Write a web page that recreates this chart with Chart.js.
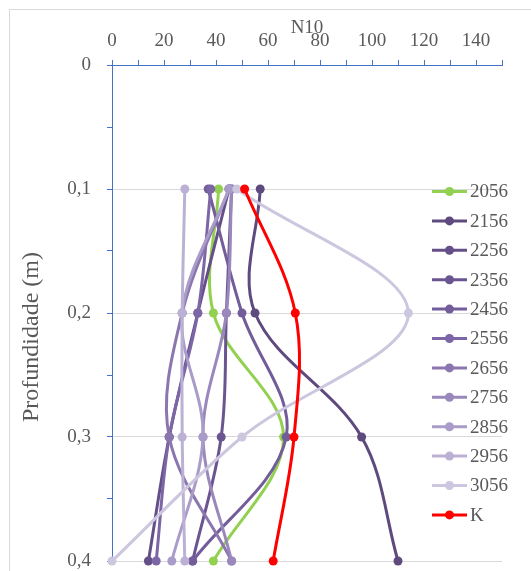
<!DOCTYPE html>
<html>
<head>
<meta charset="utf-8">
<script src="https://cdn.jsdelivr.net/npm/chart.js@4.4.1/dist/chart.umd.min.js"></script>
<style>
html, body { margin: 0; padding: 0; background: #fff; overflow: hidden; }
#frame { position: absolute; left: 9px; top: 9px; width: 700px; height: 700px;
         border-left: 1px solid #D9D9D9; border-top: 1px solid #D9D9D9; }
#myChart { position: absolute; left: 0; top: 0; }
</style>
</head>
<body>
<div id="frame"></div>
<canvas id="myChart" width="531" height="571"></canvas>
<script>
// depth of each reading (m)
var depths = [0.1, 0.2, 0.3, 0.4];

var names = ['2056', '2156', '2256', '2356', '2456', '2556', '2656', '2756', '2856', '2956', '3056', 'K'];

// N10, one value per depth
var n2056 = [41, 39, 66, 39];
var n2156 = [57, 55, 96, 110];
var n2256 = [45, 33, 22, 14];
var n2356 = [46, 44, 42, 31];
var n2456 = [37, 50, 67, 31];
var n2556 = [38, 33, 22, 17];
var n2656 = [45, 27, 22, 46];
var n2756 = [46, 44, 35, 46];
var n2856 = [45, 27, 35, 23];
var n2956 = [28, 27, 27, 28];
var n3056 = [48, 114, 50, 0];
var nK    = [51, 70.5, 70, 62];

var allValues = [n2056, n2156, n2256, n2356, n2456, n2556, n2656, n2756, n2856, n2956, n3056, nK];
var colors = ['#92D050', '#5E4A7E', '#644F88', '#6A5591', '#735C9A', '#7D66A6',
              '#8B76B0', '#9A88BC', '#AA9CC8', '#BBB1D4', '#CDC6DF', '#FF0000'];

var axisBlue = '#4472C4';
var textGray = '#595959';
var serif = "'Liberation Serif', 'Times New Roman', serif";

Chart.defaults.font.family = serif;
Chart.defaults.font.size = 19;
Chart.defaults.color = textGray;

var datasets = allValues.map(function (vals, i) {
  return {
    label: names[i],
    data: vals.map(function (v, j) { return {x: v, y: depths[j]}; }),
    borderColor: colors[i],
    backgroundColor: colors[i],
    borderWidth: 3,
    pointRadius: 4.5,
    pointBorderWidth: 0,
    tension: 0.35,
    clip: false,
    order: allValues.length - i   // later series drawn on top, like Excel
  };
});

// legend drawn over the right side of the plot
var sideLegend = {
  id: 'sideLegend',
  afterDraw: function (chart) {
    var ctx = chart.ctx;
    ctx.save();
    ctx.font = '19px ' + serif;
    ctx.textBaseline = 'middle';
    ctx.textAlign = 'left';
    names.forEach(function (n, i) {
      var y = 191.5 + 29.4 * i;
      ctx.strokeStyle = colors[i];
      ctx.lineWidth = 3;
      ctx.beginPath();
      ctx.moveTo(432, y);
      ctx.lineTo(467, y);
      ctx.stroke();
      ctx.fillStyle = colors[i];
      ctx.beginPath();
      ctx.arc(449.5, y, 4.5, 0, Math.PI * 2);
      ctx.fill();
      ctx.fillStyle = textGray;
      ctx.fillText(n, 470, y + 1);
    });
    ctx.restore();
  }
};

function hundredths(v) { return Math.round(v * 100); }

var chart = new Chart(document.getElementById('myChart').getContext('2d'), {
  type: 'line',
  data: { datasets: datasets },
  plugins: [sideLegend],
  options: {
    responsive: false,
    animation: false,
    layout: { padding: { left: 0, top: 0, right: 29, bottom: 10 } },
    plugins: { legend: { display: false }, tooltip: { enabled: false } },
    scales: {
      x: {
        type: 'linear',
        position: 'top',
        min: 0,
        max: 150,
        afterFit: function (scale) {
          scale.height = 65;
          scale.paddingLeft = 0;
          scale.paddingRight = 0;
        },
        ticks: {
          stepSize: 10,
          autoSkip: false,
          maxRotation: 0,
          padding: 8,
          callback: function (v) { return v % 20 === 0 ? String(v) : ''; }
        },
        grid: { drawOnChartArea: false, tickColor: axisBlue, tickLength: 5 },
        border: { color: axisBlue, width: 1 },
        title: { display: true, text: 'N10', padding: { top: 17, bottom: 0 } }
      },
      y: {
        type: 'linear',
        reverse: true,
        min: 0,
        max: 0.4,
        afterFit: function (scale) {
          scale.width = 112;
          scale.paddingTop = 0;
          scale.paddingBottom = 0;
        },
        ticks: {
          stepSize: 0.05,
          autoSkip: false,
          padding: 16,
          callback: function (v) {
            var r = hundredths(v);
            if (r === 0) return '0';
            return r % 10 === 0 ? (r / 100).toFixed(1).replace('.', ',') : '';
          }
        },
        grid: {
          color: function (c) {
            var r = hundredths(c.tick.value);
            return (r > 0 && r % 10 === 0) ? '#D9D9D9' : 'rgba(0,0,0,0)';
          },
          tickColor: axisBlue,
          tickLength: 5
        },
        border: { color: axisBlue, width: 1 },
        title: {
          display: true,
          text: 'Profundidade (m)\u2003\u2003',   // trailing em spaces push the text down a bit
          font: { size: 24 },
          padding: { top: 17, bottom: 0 }
        }
      }
    }
  }
});
</script>
</body>
</html>
